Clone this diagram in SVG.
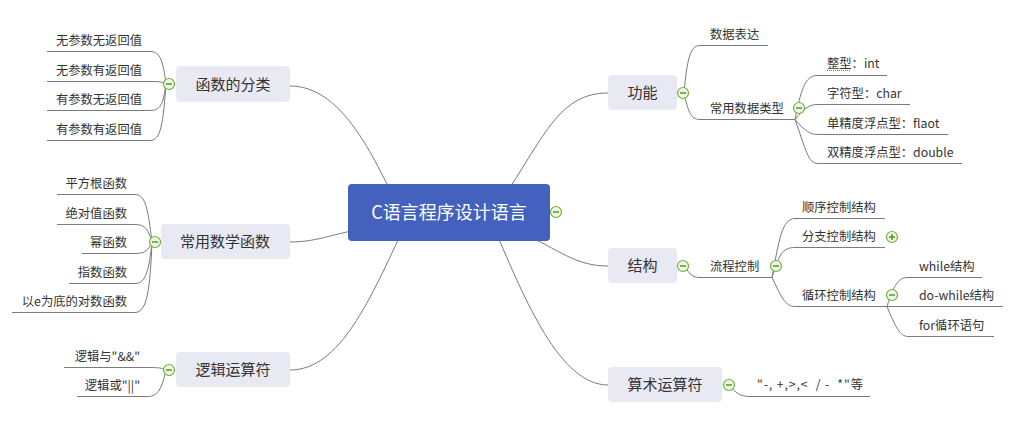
<svg xmlns="http://www.w3.org/2000/svg" width="1022" height="422" viewBox="0 0 1022 422">
<defs>
<style>
text{font-family:"Noto Sans CJK SC","Microsoft YaHei",sans-serif;fill:#333}
.conn path{fill:none;stroke:#7a7a7a;stroke-width:1}
.box{fill:#e8e9f2}
.main{font-size:15px;text-anchor:middle}
.leaf{font-size:12.3px}
.end{text-anchor:end}
</style>
<g id="minus"><circle cx="0" cy="0" r="5.5" fill="#eef7e4" stroke="#6fb23c" stroke-width="1.2"/><path d="M-3 0H3" stroke="#4c8f1f" stroke-width="1.4" fill="none"/></g>
<g id="plus"><circle cx="0" cy="0" r="5.5" fill="#eef7e4" stroke="#6fb23c" stroke-width="1.2"/><path d="M-3 0H3M0 -3V3" stroke="#4c8f1f" stroke-width="1.4" fill="none"/></g>
</defs>
<rect width="1022" height="422" fill="#fff"/>

<g id="connectors" class="conn">
<path d="M395 200 C370 150 340 86 290 86"/>
<path d="M380 226 C335 232 320 242 290 242"/>
<path d="M405 225 C370 300 340 370 290 370"/>
<path d="M505 195 C545 135 560 93 608 93"/>
<path d="M520 232 C560 250 575 266 608 266"/>
<path d="M495 230 C525 300 560 385 608 385"/>
<path d="M166 84 C163 62 161 51.5 150 51.5 H47"/>
<path d="M166 84 C162 82 160 81.5 152 81.5 H47"/>
<path d="M166 84 C163 104 161 110.5 150 110.5 H47"/>
<path d="M166 84 C163 124 161 140.5 150 140.5 H47"/>
<path d="M152 242 C148 210 146 194.5 135 194.5 H57"/>
<path d="M152 242 C148 230 146 224.5 135 224.5 H57"/>
<path d="M152 242 C148 250 146 253.5 135 253.5 H82"/>
<path d="M152 242 C149 270 146 283.5 135 283.5 H69"/>
<path d="M152 242 C150 290 147 312.5 135 312.5 H12"/>
<path d="M166 370 C162 368 158 367.5 150 367.5 H64"/>
<path d="M166 370 C162 388 158 396.5 148 396.5 H77"/>
<path d="M684 93 C687 60 690 45.5 700 45.5 H768"/>
<path d="M684 93 C688 110 690 119.5 700 119.5 H795"/>
<path d="M795 119.5 C801 90 805 75.5 817 75.5 H887"/>
<path d="M795 119.5 C805 107 810 104.5 818 104.5 H910"/>
<path d="M795 119.5 C805 131 810 134.5 818 134.5 H948"/>
<path d="M795 119.5 C806 150 808 163.5 818 163.5 H962"/>
<path d="M684 266 C690 274 692 277.5 700 277.5 H772"/>
<path d="M772 277.5 C779 240 782 218.5 795 218.5 H885"/>
<path d="M772 277.5 C779 255 782 247.5 795 247.5 H885"/>
<path d="M772 277.5 C781 296 785 306.5 795 306.5 H887"/>
<path d="M887 306.5 C894 285 898 277.5 908 277.5 H982"/>
<path d="M887 306.5 H1003"/>
<path d="M887 306.5 C895 326 900 336.5 908 336.5 H994"/>
<path d="M729 385 C736 393 740 396.5 750 396.5 H870"/>
</g>

<g id="center">
<rect x="348" y="184" width="202" height="57" rx="4" fill="#4361bd"/>
<text x="449" y="219" style="font-size:18px;text-anchor:middle;fill:#fff">C语言程序设计语言</text>
<use href="#minus" x="556" y="212"/>
</g>

<g id="n-hanshu">
<rect class="box" x="176" y="66" width="114" height="36" rx="4"/>
<text class="main" x="233" y="90">函数的分类</text>
<use href="#minus" x="169" y="84"/>
<text class="leaf end" x="142" y="45">无参数无返回值</text>
<text class="leaf end" x="142" y="75">无参数有返回值</text>
<text class="leaf end" x="142" y="104">有参数无返回值</text>
<text class="leaf end" x="142" y="134">有参数有返回值</text>
</g>

<g id="n-shuxue">
<rect class="box" x="161" y="224" width="129" height="35" rx="4"/>
<text class="main" x="225" y="247">常用数学函数</text>
<use href="#minus" x="155" y="242"/>
<text class="leaf end" x="127" y="188">平方根函数</text>
<text class="leaf end" x="127" y="218">绝对值函数</text>
<text class="leaf end" x="127" y="247">幂函数</text>
<text class="leaf end" x="127" y="277">指数函数</text>
<text class="leaf end" x="127" y="306">以e为底的对数函数</text>
</g>

<g id="n-luoji">
<rect class="box" x="176" y="352" width="114" height="35" rx="4"/>
<text class="main" x="233" y="375">逻辑运算符</text>
<use href="#minus" x="169" y="370"/>
<text class="leaf end" x="140" y="361">逻辑与"&amp;&amp;"</text>
<text class="leaf end" x="140" y="390">逻辑或"||"</text>
</g>

<g id="n-gongneng">
<rect class="box" x="608" y="75" width="69" height="35" rx="4"/>
<text class="main" x="642.5" y="98">功能</text>
<use href="#minus" x="683" y="93"/>
<text class="leaf" x="710" y="39">数据表达</text>
<text class="leaf" x="710" y="113">常用数据类型</text>
<use href="#minus" x="799" y="108"/>
<text class="leaf" x="827" y="68">整型：int</text>
<path d="M827 70.5 H851" stroke="#555" stroke-width="0.8" stroke-dasharray="1 1"/>
<text class="leaf" x="827" y="98">字符型：char</text>
<text class="leaf" x="827" y="128">单精度浮点型：flaot</text>
<text class="leaf" x="827" y="157">双精度浮点型：double</text>
</g>

<g id="n-jiegou">
<rect class="box" x="608" y="248" width="69" height="35" rx="4"/>
<text class="main" x="642.5" y="271">结构</text>
<use href="#minus" x="683" y="266"/>
<text class="leaf" x="710" y="271">流程控制</text>
<use href="#minus" x="776" y="266"/>
<text class="leaf" x="802" y="212">顺序控制结构</text>
<text class="leaf" x="802" y="241">分支控制结构</text>
<use href="#plus" x="892" y="237"/>
<text class="leaf" x="802" y="300">循环控制结构</text>
<use href="#minus" x="892" y="295"/>
<text class="leaf" x="919" y="271">while结构</text>
<text class="leaf" x="919" y="300">do-while结构</text>
<text class="leaf" x="919" y="330">for循环语句</text>
</g>

<g id="n-suanshu">
<rect class="box" x="608" y="367" width="114" height="35" rx="4"/>
<text class="main" x="665" y="390">算术运算符</text>
<use href="#minus" x="729" y="385"/>
<text class="leaf" x="757" y="389" textLength="106" style="white-space:pre">"-, +,&gt;,&lt;  / -  *"等</text>
</g>
</svg>
